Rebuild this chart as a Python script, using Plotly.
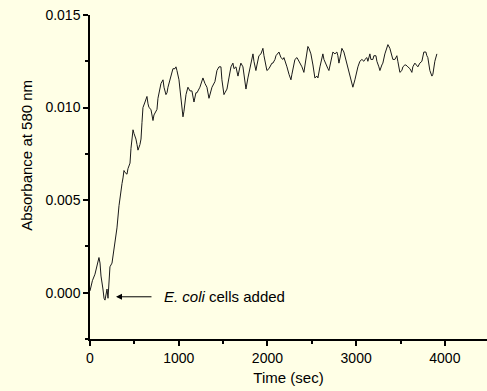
import plotly.graph_objects as go

# Time (sec) and absorbance values
time_sec = [0, 27, 56, 79, 101, 113, 124, 146, 158, 169, 192, 203, 225, 248, 270, 282, 293, 304, 327, 338,
            349, 361, 372, 383, 394, 417, 428, 451, 462, 485, 496, 518, 530, 541, 563, 575, 586, 597, 620, 642,
            654, 665, 687, 699, 710, 721, 732, 755, 766, 789, 800, 823, 834, 856, 868, 879, 901, 924, 935, 958,
            969, 980, 1003, 1014, 1025, 1048, 1059, 1082, 1104, 1127, 1149, 1172, 1194, 1206, 1239, 1251, 1273,
            1296, 1318, 1341, 1363, 1375, 1408, 1431, 1454, 1476, 1487, 1510, 1521, 1544, 1566, 1589, 1611, 1623,
            1645, 1656, 1668, 1690, 1701, 1724, 1735, 1758, 1780, 1803, 1814, 1837, 1848, 1870, 1882, 1904, 1927,
            1949, 1961, 1972, 1994, 2017, 2028, 2051, 2062, 2085, 2096, 2119, 2130, 2152, 2175, 2186, 2209, 2220,
            2243, 2265, 2276, 2299, 2310, 2333, 2355, 2366, 2389, 2411, 2434, 2456, 2468, 2490, 2513, 2535, 2558,
            2569, 2592, 2614, 2625, 2637, 2659, 2682, 2693, 2715, 2738, 2761, 2783, 2794, 2806, 2828, 2839, 2862,
            2873, 2896, 2907, 2930, 2952, 2963, 2986, 3008, 3020, 3042, 3065, 3087, 3099, 3121, 3132, 3155, 3166,
            3189, 3200, 3223, 3234, 3256, 3268, 3290, 3301, 3324, 3346, 3358, 3380, 3403, 3414, 3437, 3459, 3470,
            3493, 3515, 3527, 3549, 3561, 3583, 3606, 3628, 3639, 3662, 3685, 3696, 3718, 3741, 3763, 3786, 3797,
            3808, 3831, 3854, 3865, 3887, 3910]
absorbance = [0.0001, 0.00065, 0.0010, 0.0015, 0.0019, 0.0016, 0.0009, 0.0002, -0.0003, -0.0004, 0.0002, -0.0003,
              0.0014, 0.0016, 0.0023, 0.0027, 0.0031, 0.0035, 0.0047, 0.0052, 0.0057, 0.0059, 0.0062, 0.0066,
              0.0065, 0.0064, 0.0067, 0.0070, 0.0078, 0.0088, 0.0086, 0.0083, 0.0080, 0.0077, 0.0080, 0.0083,
              0.0092, 0.0100, 0.0103, 0.0106, 0.0102, 0.0100, 0.0099, 0.0095, 0.0093, 0.0096, 0.0097, 0.0099,
              0.0105, 0.0111, 0.0113, 0.0115, 0.0111, 0.0107, 0.0108, 0.0111, 0.0115, 0.0120, 0.0121, 0.0121,
              0.0122, 0.0120, 0.0115, 0.0110, 0.0104, 0.0095, 0.0098, 0.0107, 0.0111, 0.0109, 0.0109, 0.0103,
              0.0108, 0.0108, 0.0111, 0.0113, 0.0116, 0.0113, 0.0111, 0.0105, 0.0110, 0.0111, 0.0114, 0.0120,
              0.0122, 0.0122, 0.0115, 0.0107, 0.0108, 0.0110, 0.0116, 0.0122, 0.0124, 0.0121, 0.0122, 0.0120,
              0.0117, 0.0122, 0.0124, 0.0122, 0.0118, 0.0110, 0.0116, 0.0122, 0.0125, 0.0129, 0.0125, 0.0120,
              0.0123, 0.0128, 0.0129, 0.0132, 0.0128, 0.0125, 0.0120, 0.0121, 0.0122, 0.0124, 0.0124, 0.0126,
              0.0128, 0.0129, 0.0130, 0.0127, 0.0126, 0.0127, 0.0124, 0.0122, 0.0118, 0.0115, 0.0118, 0.0123,
              0.0126, 0.0127, 0.0125, 0.0124, 0.0122, 0.0119, 0.0126, 0.0133, 0.0132, 0.0129, 0.0123, 0.0116,
              0.0117, 0.0116, 0.0122, 0.0128, 0.0129, 0.0126, 0.0123, 0.0121, 0.0120, 0.0125, 0.0130, 0.0129,
              0.0130, 0.0128, 0.0124, 0.0129, 0.0132, 0.0130, 0.0128, 0.0123, 0.0121, 0.0117, 0.0114, 0.0111,
              0.0115, 0.0121, 0.0122, 0.0125, 0.0126, 0.0125, 0.0126, 0.0127, 0.0125, 0.0129, 0.0126, 0.0126,
              0.0128, 0.0128, 0.0125, 0.0122, 0.0120, 0.0123, 0.0124, 0.0129, 0.0133, 0.0134, 0.0132, 0.0128,
              0.0126, 0.0126, 0.0128, 0.0125, 0.0119, 0.0120, 0.0122, 0.0123, 0.0123, 0.0122, 0.0121, 0.0119,
              0.0122, 0.0124, 0.0123, 0.0122, 0.0124, 0.0125, 0.0130, 0.0130, 0.0128, 0.0127, 0.0120, 0.0117,
              0.0118, 0.0125, 0.0129]

x_ticks = [0, 1000, 2000, 3000, 4000]
x_tick_labels = ["0", "1000", "2000", "3000", "4000"]
y_ticks = [0.000, 0.005, 0.010, 0.015]
y_tick_labels = ["0.000", "0.005", "0.010", "0.015"]

x_title = "Time (sec)"
y_title = "Absorbance at 580 nm"
annotation_text = "<i>E. coli</i> cells added"
arrow_head = (293, -0.00022)
arrow_tail_x = 710
text_x = 811

bg = "#FFFFE6"
family = "Arial, Liberation Sans, sans-serif"
tick_font = dict(family=family, size=14, color="#000000")
text_font = dict(family=family, size=15, color="#000000")

fig = go.Figure()
fig.add_trace(go.Scatter(x=time_sec, y=absorbance, mode="lines",
                         line=dict(color="#1a1a1a", width=1), showlegend=False))

fig.update_layout(
    width=487, height=391,
    margin=dict(l=90, r=0, t=15, b=52),
    paper_bgcolor=bg, plot_bgcolor=bg,
    font=tick_font,
    showlegend=False,
)
fig.update_xaxes(
    range=[0, 4475], showgrid=False, zeroline=False,
    showline=True, linecolor="#000000", linewidth=1.5,
    tickmode="array", tickvals=x_ticks, ticktext=x_tick_labels,
    ticks="outside", ticklen=5, tickwidth=1.5, tickcolor="#000000",
    minor=dict(dtick=500, tick0=0, ticks="outside", ticklen=3, tickwidth=1.5, tickcolor="#000000", showgrid=False),
    title=dict(text=x_title, standoff=8, font=text_font),
    tickfont=tick_font,
)
fig.update_yaxes(
    range=[-0.0025, 0.015], showgrid=False, zeroline=False,
    showline=True, linecolor="#000000", linewidth=1.5,
    tickmode="array", tickvals=y_ticks, ticktext=y_tick_labels,
    ticks="outside", ticklen=5, tickwidth=1.5, tickcolor="#000000",
    minor=dict(dtick=0.0025, tick0=0, ticks="outside", ticklen=3, tickwidth=1.5, tickcolor="#000000", showgrid=False),
    tickfont=tick_font,
)

# y-axis title (placed above the axis centre as in the reference)
fig.add_annotation(xref="paper", yref="paper", x=-0.159, y=0.568,
                   text=y_title, textangle=-90, showarrow=False,
                   xanchor="center", yanchor="middle", font=text_font)

fig.add_annotation(x=arrow_head[0], y=arrow_head[1], ax=arrow_tail_x, ay=arrow_head[1],
                   xref="x", yref="y", axref="x", ayref="y",
                   text="", showarrow=True, arrowhead=2, arrowsize=1.2, arrowwidth=1,
                   arrowcolor="#000000")
fig.add_annotation(x=text_x, y=arrow_head[1], xref="x", yref="y",
                   text=annotation_text, showarrow=False, xanchor="left", yanchor="middle",
                   font=text_font)

fig.write_html("out.html")
